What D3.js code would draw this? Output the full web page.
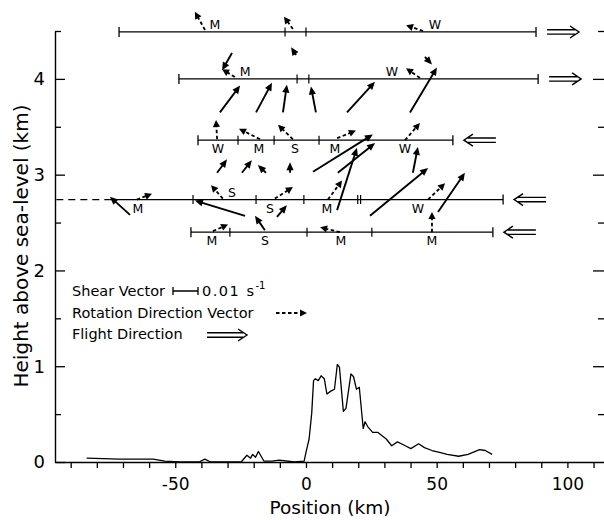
<!DOCTYPE html>
<html><head><meta charset="utf-8">
<script src="https://cdn.jsdelivr.net/npm/d3@7"></script>
<style>
body{margin:0;background:#fff}
svg{display:block}
text{font-family:"DejaVu Sans",sans-serif;fill:#000}
</style>
</head><body>
<svg id="c" width="604" height="520"></svg>
<script>
// ---------------- DATA ----------------
// axis tick labels
const xTickLabels = [-50, 0, 50, 100];
const yTickLabels = [0, 1, 2, 3, 4];

// flight legs: height (km), start / end position (km), flight direction
const legHeights = [4.49, 4.0, 3.36, 2.74, 2.40];
const legStart   = [-71.5, -48.6, -41.3, -75.0, -44.0];
const legEnd     = [88.0, 88.8, 56.2, 75.4, 71.5];
const legDir     = [1, 1, -1, -1, -1];
const legDashedFrom = [null, null, null, -95.5, null];
const legTicks = [
  [-8.0, 0.0],
  [-3.4, 1.1],
  [-26.0, -12.2, 5.0],
  [-43.2, -19.1, -0.8, 19.8, 20.9],
  [-29.1, 0.4, 25.2]
];

// site labels: [leg index, position km, letter, side (1 above, -1 below)]
const siteLabels = [
  [0, -34.8, "M", 1], [0, 49.3, "W", 1],
  [1, -23.3, "M", 1], [1, 32.9, "W", 1],
  [2, -33.7, "W", -1], [2, -18.0, "M", -1], [2, -4.2, "S", -1], [2, 11.1, "M", -1], [2, 37.9, "W", -1],
  [3, -64.3, "M", -1], [3, -28.3, "S", 1], [3, -13.8, "S", -1], [3, 8.0, "M", -1], [3, 42.8, "W", -1],
  [4, -36.0, "M", -1], [4, -15.7, "S", -1], [4, 13.4, "M", -1], [4, 48.2, "M", -1]
];

// rotation direction vectors (dashed): [x0 km, z0 km, x1 km, z1 km]
const rotationVectors = [
  [-38.6, 4.51, -42.5, 4.70],
  [-5.0, 4.52, -8.4, 4.65],
  [44.8, 4.50, 38.3, 4.56],
  [-27.2, 4.02, -32.1, 4.10],
  [43.6, 4.01, 38.3, 4.11],
  [-34.0, 3.37, -34.4, 3.57],
  [-17.6, 3.37, -25.6, 3.48],
  [-5.0, 3.37, -10.7, 3.52],
  [11.9, 3.38, 19.1, 3.46],
  [37.9, 3.36, 43.6, 3.54],
  [-64.7, 2.74, -58.9, 2.80],
  [-31.8, 2.75, -36.3, 2.89],
  [-11.9, 2.75, -5.0, 2.87],
  [8.4, 2.74, 13.8, 2.94],
  [46.7, 2.74, 53.2, 2.91],
  [48.2, 2.40, 48.2, 2.61],
  [-35.6, 2.41, -29.8, 2.48],
  [13.0, 2.40, 5.4, 2.45]
];

// shear vectors (solid): [x0 km, z0 km, x1 km, z1 km]
const shearVectors = [
  [-3.8, 4.25, -5.7, 4.33],
  [-28.3, 4.27, -32.1, 4.09],
  [45.5, 4.23, 48.2, 4.15],
  [-32.9, 3.65, -25.2, 3.93],
  [-19.1, 3.65, -13.0, 3.96],
  [-8.8, 3.65, -7.3, 3.94],
  [3.8, 3.65, 1.9, 3.92],
  [15.7, 3.65, 26.4, 3.97],
  [39.8, 3.65, 50.1, 4.12],
  [-34.0, 3.02, -30.2, 3.16],
  [-24.5, 3.02, -20.7, 3.15],
  [-15.3, 3.02, -18.4, 3.10],
  [-6.1, 3.02, -6.1, 3.13],
  [2.7, 3.03, 25.6, 3.42],
  [12.2, 3.02, 26.4, 3.33],
  [11.9, 2.63, 19.5, 3.28],
  [40.9, 3.02, 42.8, 3.29],
  [24.5, 2.57, 46.7, 3.07],
  [50.5, 2.61, 60.8, 3.02],
  [-67.3, 2.58, -75.0, 2.77],
  [-23.3, 2.57, -42.5, 2.73],
  [-11.1, 2.56, -7.3, 2.68],
  [-15.7, 2.42, -19.5, 2.57]
];

// terrain profile
const terrainX = [-83.9,-71.5,-58.4,-54.0,-48.2,-40.9,-38.7,-36.5,-24.8,-22.6,-21.2,-20.4,-19.3,-18.2,-16.1,-13.1,-10.2,-4.4,-0.7,0,1.2,2.2,2.9,3.6,4.7,5.8,7.0,8.0,9.5,10.9,12.0,12.8,14.3,15.3,17.2,18.2,19.3,20.4,21.9,22.6,23.6,25.5,27.4,30.7,32.8,35.0,38.0,40.1,43.1,45.3,48.2,51.1,54.0,58.4,62.0,66.4,68.6,71.2];
const terrainZ = [0.04,0.03,0.03,0.01,0.0,0.0,0.03,0.0,0.0,0.07,0.04,0.08,0.05,0.11,0.01,0.01,0.02,0.0,0.01,0.10,0.24,0.51,0.85,0.87,0.85,0.90,0.87,0.71,0.74,0.76,1.02,0.99,0.53,0.56,0.92,0.89,0.76,0.78,0.35,0.42,0.37,0.31,0.31,0.24,0.17,0.21,0.17,0.14,0.19,0.15,0.12,0.10,0.08,0.06,0.08,0.13,0.12,0.08];

// ---------------- DRAW ----------------
const svg = d3.select('#c');
const x = d3.scaleLinear().domain([-96, 114]).range([55, 604]);
const y = d3.scaleLinear().domain([0, 4.5]).range([462, 31]);

// bottom axis
const gx = svg.append('g').attr('transform', `translate(0,${y(0)})`)
  .call(d3.axisBottom(x).tickValues(d3.range(-90, 111, 10)).tickSize(6).tickSizeOuter(0).tickFormat(d => xTickLabels.includes(d) ? String(d) : ''));
gx.select('.domain').attr('stroke', '#000').attr('stroke-width', 1.4);
gx.selectAll('.tick line').attr('stroke-width', 1.3);
gx.selectAll('.tick text').attr('y', 28).attr('dy', null).attr('font-size', 17).attr('font-family', '"DejaVu Sans",sans-serif');

// left axis (ticks inward)
const yTicks = d3.range(0, 4.51, 0.5);
const gy = svg.append('g').attr('transform', `translate(${x(-96)},0)`)
  .call(d3.axisRight(y).tickValues(yTicks).tickSizeOuter(0).tickFormat(''));
gy.select('.domain').attr('stroke', '#000').attr('stroke-width', 1.4);
gy.selectAll('.tick line').attr('x2', d => Number.isInteger(d) ? 10 : 6).attr('stroke-width', 1.3);
svg.append('g').selectAll('text').data(yTickLabels).join('text')
  .attr('x', 45).attr('y', d => y(d)).attr('dy', '0.36em')
  .attr('text-anchor', 'end').attr('font-size', 18).text(d => d);

// right axis ticks
const gr = svg.append('g').attr('transform', `translate(604,0)`)
  .call(d3.axisLeft(y).tickValues(yTicks.filter(d => d > 0)).tickSizeOuter(0).tickFormat(''));
gr.select('.domain').remove();
gr.selectAll('.tick line').attr('x2', d => Number.isInteger(d) ? -11 : -6).attr('stroke-width', 1.3);

// axis titles
svg.append('text').attr('x', 330).attr('y', 514).attr('text-anchor', 'middle')
  .attr('font-size', 18.5).text('Position (km)');
svg.append('text').attr('transform', 'translate(28,246) rotate(-90)').attr('text-anchor', 'middle')
  .attr('font-size', 20).text('Height above sea-level (km)');

// terrain
svg.append('path').datum(d3.zip(terrainX, terrainZ))
  .attr('fill', 'none').attr('stroke', '#000').attr('stroke-width', 1.3).attr('stroke-linejoin', 'round')
  .attr('d', d3.line().x(d => x(d[0])).y(d => y(d[1])));

// arrows helper
function arrow(g, x0, y0, x1, y1, dashed, hl, hw, sw) {
  const dx = x1 - x0, dy = y1 - y0, L = Math.hypot(dx, dy) || 1, ux = dx / L, uy = dy / L;
  const bx = x1 - ux * hl, by = y1 - uy * hl;
  g.append('line').attr('x1', x0).attr('y1', y0).attr('x2', bx + ux).attr('y2', by + uy)
    .attr('stroke', '#000').attr('stroke-width', sw)
    .attr('stroke-dasharray', dashed ? '3.5,2.5' : null);
  g.append('path').attr('d', `M${x1},${y1}L${bx - uy * hw},${by + ux * hw}L${bx + uy * hw},${by - ux * hw}Z`)
    .attr('fill', '#000');
}
function dblArrow(g, xt, xh, yc) {
  const dir = Math.sign(xh - xt);
  g.append('path')
    .attr('d', `M${xt},${yc - 2.2}H${xh - dir * 4}M${xt},${yc + 2.2}H${xh - dir * 4}M${xh - dir * 9},${yc - 6}L${xh},${yc}L${xh - dir * 9},${yc + 6}`)
    .attr('fill', 'none').attr('stroke', '#000').attr('stroke-width', 1.4).attr('stroke-linejoin', 'miter');
}

// flight legs
const gl = svg.append('g');
legHeights.forEach((h, i) => {
  const yy = y(h);
  gl.append('line').attr('x1', x(legStart[i])).attr('x2', x(legEnd[i])).attr('y1', yy).attr('y2', yy)
    .attr('stroke', '#000').attr('stroke-width', 1.3);
  if (legDashedFrom[i] !== null) {
    gl.append('line').attr('x1', x(legDashedFrom[i])).attr('x2', x(legStart[i])).attr('y1', yy).attr('y2', yy)
      .attr('stroke', '#000').attr('stroke-width', 1.3).attr('stroke-dasharray', '7,5');
  } else {
    gl.append('line').attr('x1', x(legStart[i])).attr('x2', x(legStart[i])).attr('y1', yy - 5).attr('y2', yy + 5)
      .attr('stroke', '#000').attr('stroke-width', 1.3);
  }
  gl.append('line').attr('x1', x(legEnd[i])).attr('x2', x(legEnd[i])).attr('y1', yy - 5).attr('y2', yy + 5)
    .attr('stroke', '#000').attr('stroke-width', 1.3);
  legTicks[i].forEach(t => {
    gl.append('line').attr('x1', x(t)).attr('x2', x(t)).attr('y1', yy - 4.5).attr('y2', yy + 4.5)
      .attr('stroke', '#000').attr('stroke-width', 1.2);
  });
  const xe = x(legEnd[i]) + 11;
  if (legDir[i] > 0) dblArrow(gl, xe, xe + 32, yy); else dblArrow(gl, xe + 32, xe, yy);
});

// site labels
svg.append('g').selectAll('text').data(siteLabels).join('text')
  .attr('x', d => x(d[1])).attr('y', d => y(legHeights[d[0]]) + (d[3] > 0 ? -3 : 13))
  .attr('text-anchor', 'middle').attr('font-size', 12.5).text(d => d[2]);

// vectors
const gv = svg.append('g');
rotationVectors.forEach(v => arrow(gv, x(v[0]), y(v[1]), x(v[2]), y(v[3]), true, 7, 3.6, 1.8));
shearVectors.forEach(v => arrow(gv, x(v[0]), y(v[1]), x(v[2]), y(v[3]), false, 8, 3.6, 1.9));

// legend
const lg = svg.append('g');
lg.append('text').attr('x', 72).attr('y', 296).attr('font-size', 14.5).text('Shear Vector');
lg.append('path').attr('d', 'M173,291H198M173,287V295M198,287V295').attr('stroke', '#000').attr('stroke-width', 1.3).attr('fill', 'none');
const t1 = lg.append('text').attr('x', 202).attr('y', 296).attr('font-size', 14.5);
t1.append('tspan').attr('letter-spacing', 1.5).text('0.01 s');
t1.append('tspan').attr('font-size', 10).attr('dy', -7).text('-1');
lg.append('text').attr('x', 72).attr('y', 318).attr('font-size', 14.5).text('Rotation Direction Vector');
arrow(lg, 276, 313, 307, 313, true, 7, 3.6, 1.8);
lg.append('text').attr('x', 72).attr('y', 339).attr('font-size', 14.5).text('Flight Direction');
dblArrow(lg, 207, 247, 335);
</script>
</body></html>
